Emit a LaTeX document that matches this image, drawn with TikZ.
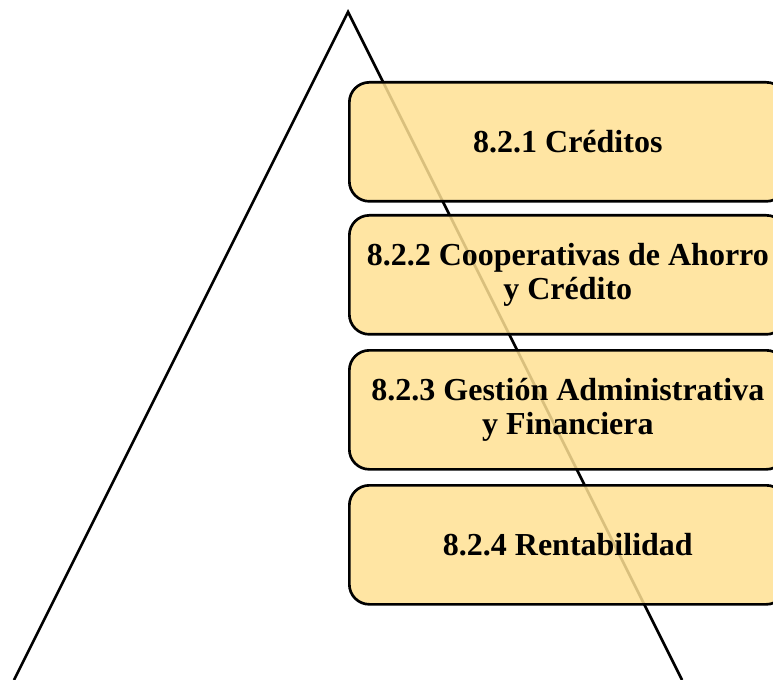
\documentclass[tikz,border=0pt]{standalone}
\usepackage{fontspec}
\setmainfont{Liberation Serif}
\definecolor{boxfill}{HTML}{FFE193}
\begin{document}
\begin{tikzpicture}[x=0.75pt,y=-0.75pt,
  tri/.style={draw=black,line width=2pt},
  card/.style={draw=black,line width=2pt,fill=boxfill,fill opacity=0.85,text opacity=1,
    rounded corners=15pt,minimum width=437*0.75pt,minimum height=119*0.75pt,
    anchor=north west,align=center,inner sep=0pt,
    font=\bfseries\fontsize{24}{25}\selectfont}]
\useasboundingbox (0,0) rectangle (773,680);
\clip (0,0) rectangle (773,680);
\coordinate (apex) at (348,12);
\coordinate (bl) at (14,680);
\coordinate (br) at (682,680);
\draw[tri] (bl) -- (apex) -- (br);
\node[card] (b1) at (348,81) {8.2.1 Créditos};
\node[card] (b2) at (348,214) {8.2.2 Cooperativas de Ahorro\\y Crédito};
\node[card] (b3) at (348,349) {8.2.3 Gestión Administrativa\\y Financiera};
\node[card] (b4) at (348,484) {8.2.4 Rentabilidad};
\end{tikzpicture}
\end{document}
